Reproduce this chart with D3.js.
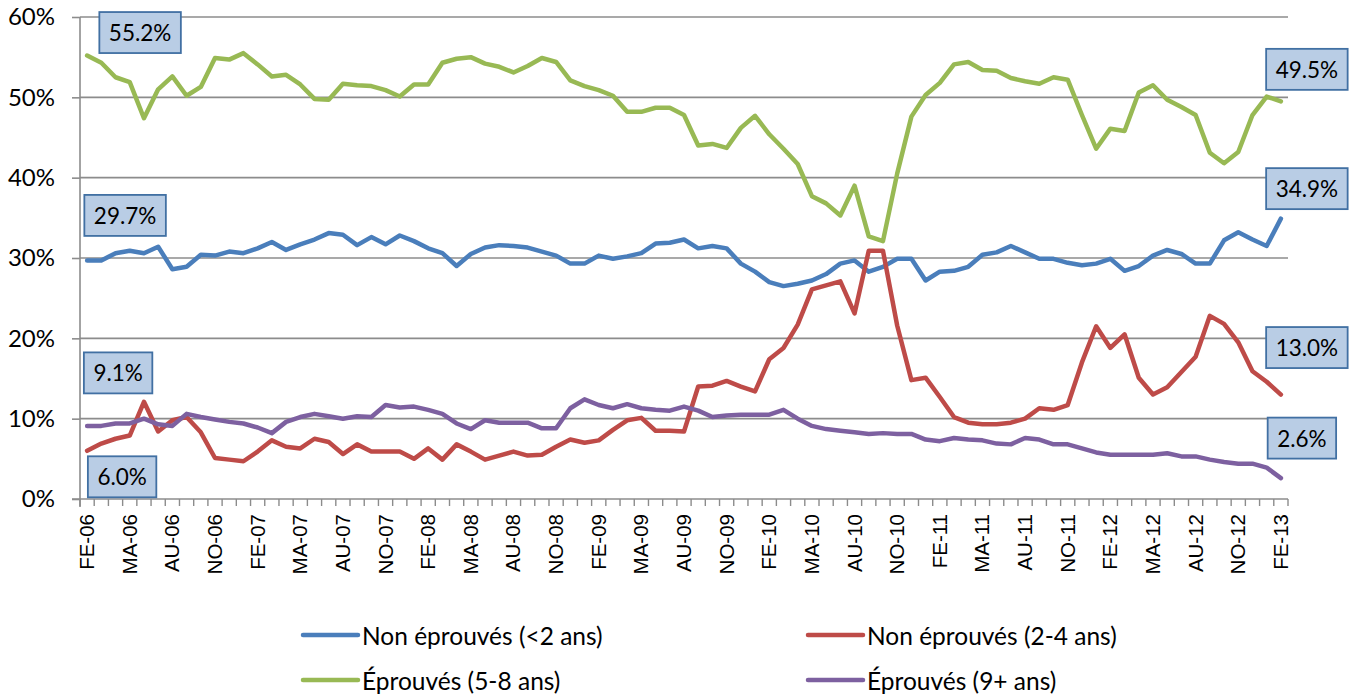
<!DOCTYPE html>
<html>
<head>
<meta charset="utf-8">
<script src="https://cdn.jsdelivr.net/npm/d3@7"></script>
<style>
  html, body { margin: 0; padding: 0; background: #fff; }
  svg { display: block; }
</style>
</head>
<body>
<svg id="chart" width="1359" height="697"></svg>
<script>
// ---------- DATA ----------
const startMonth = "2006-02";
const monthCount = 85; // Feb 2006 .. Feb 2013
const tickLabels = ["FE-06","MA-06","AU-06","NO-06","FE-07","MA-07","AU-07","NO-07",
  "FE-08","MA-08","AU-08","NO-08","FE-09","MA-09","AU-09","NO-09","FE-10","MA-10",
  "AU-10","NO-10","FE-11","MA-11","AU-11","NO-11","FE-12","MA-12","AU-12","NO-12","FE-13"];
const yTicks = [0, 0.1, 0.2, 0.3, 0.4, 0.5, 0.6];

const seriesNames = ["Non éprouvés (<2 ans)", "Non éprouvés (2-4 ans)", "Éprouvés (5-8 ans)", "Éprouvés (9+ ans)"];

const nonEprouves2 = [29.7,29.7,30.6,30.9,30.6,31.4,28.6,28.9,30.4,30.3,30.8,30.6,31.2,32.0,31.0,31.7,32.3,33.1,32.9,31.6,
  32.6,31.7,32.8,32.1,31.2,30.6,29.0,30.5,31.3,31.6,31.5,31.3,30.8,30.3,29.3,29.3,30.3,29.9,30.2,30.6,
  31.8,31.9,32.3,31.2,31.5,31.2,29.3,28.3,27.0,26.5,26.8,27.2,28.0,29.3,29.7,28.3,28.9,29.9,29.9,27.2,
  28.3,28.4,28.9,30.4,30.7,31.5,30.7,29.9,29.9,29.4,29.1,29.3,29.9,28.4,29.0,30.3,31.0,30.5,29.3,29.3,
  32.2,33.2,32.3,31.5,34.9];
const nonEprouves24 = [6.0,6.9,7.5,7.9,12.1,8.4,9.8,10.2,8.3,5.1,4.9,4.7,5.9,7.3,6.5,6.3,7.5,7.1,5.6,6.8,
  5.9,5.9,5.9,5.0,6.3,4.9,6.8,5.9,4.9,5.4,5.9,5.4,5.5,6.5,7.4,7.0,7.3,8.6,9.8,10.1,
  8.5,8.5,8.4,14.0,14.1,14.7,14.0,13.4,17.4,18.8,21.7,26.1,26.6,27.1,23.1,30.9,30.9,21.6,14.8,15.1,
  12.7,10.2,9.5,9.3,9.3,9.5,10.0,11.3,11.1,11.7,17.0,21.5,18.8,20.5,15.1,13.0,13.9,15.8,17.7,22.8,
  21.8,19.5,15.9,14.6,13.0];
const eprouves58 = [55.2,54.3,52.5,51.9,47.4,51.0,52.6,50.2,51.3,54.9,54.7,55.5,54.1,52.6,52.8,51.6,49.8,49.7,51.7,51.5,
  51.4,50.9,50.1,51.6,51.6,54.3,54.8,55.0,54.2,53.8,53.1,53.9,54.9,54.4,52.1,51.4,50.9,50.2,48.2,48.2,
  48.7,48.7,47.8,44.0,44.2,43.7,46.2,47.7,45.4,43.6,41.7,37.7,36.8,35.3,39.0,32.7,32.1,40.5,47.6,50.3,
  51.8,54.1,54.4,53.4,53.3,52.4,52.0,51.7,52.5,52.2,47.8,43.6,46.1,45.8,50.6,51.5,49.7,48.8,47.8,43.1,
  41.8,43.2,47.8,50.1,49.5];
const eprouves9 = [9.1,9.1,9.4,9.4,10.0,9.3,9.1,10.6,10.2,9.9,9.6,9.4,8.9,8.2,9.6,10.2,10.6,10.3,10.0,10.3,
  10.2,11.7,11.4,11.5,11.1,10.6,9.4,8.7,9.8,9.5,9.5,9.5,8.8,8.8,11.3,12.4,11.7,11.3,11.8,11.3,
  11.1,11.0,11.5,11.0,10.2,10.4,10.5,10.5,10.5,11.1,10.0,9.1,8.7,8.5,8.3,8.1,8.2,8.1,8.1,7.4,
  7.2,7.6,7.4,7.3,6.9,6.8,7.6,7.4,6.8,6.8,6.3,5.8,5.5,5.5,5.5,5.5,5.7,5.3,5.3,4.9,
  4.6,4.4,4.4,3.9,2.6];

const seriesValues = [nonEprouves2, nonEprouves24, eprouves58, eprouves9];
const colors = ["#4A7EBB", "#BE4B48", "#98B954", "#7D60A0"];

// ---------- LAYOUT ----------
const svg = d3.select("#chart");
const plot = { left: 80, right: 1288, top: 17, bottom: 499 };
const calibri = "Lato, 'Open Sans', sans-serif";

const parse = d3.timeParse("%Y-%m");
const months = d3.timeMonth.range(parse(startMonth), d3.timeMonth.offset(parse(startMonth), monthCount));
const cats = months.map(d3.timeFormat("%Y-%m"));

const x = d3.scaleBand().domain(cats).range([plot.left, plot.right]).paddingInner(0).paddingOuter(0);
const cx = c => x(c) + x.bandwidth() / 2;
const y = d3.scaleLinear().domain([0, 0.6]).range([plot.bottom, plot.top]);

// gridlines
svg.append("g").selectAll("line").data(yTicks.filter(d => d > 0)).join("line")
  .attr("x1", plot.left).attr("x2", plot.right)
  .attr("y1", d => y(d)).attr("y2", d => y(d))
  .attr("stroke", "#8C8C8C").attr("stroke-width", 1.6);

// Y axis
const yAxis = d3.axisLeft(y).tickValues(yTicks).tickFormat(d3.format(".0%")).tickSize(8).tickPadding(17);
const gy = svg.append("g").attr("transform", `translate(${plot.left},0)`).call(yAxis);
gy.select(".domain").attr("stroke", "#8C8C8C").attr("stroke-width", 1.6).attr("d", `M0,${plot.top}V${plot.bottom + 8}`);
gy.selectAll(".tick line").attr("stroke", "#8C8C8C").attr("stroke-width", 1.6);
gy.selectAll(".tick text").attr("font-family", calibri).attr("font-size", 24).attr("fill", "#000");

// X axis baseline + boundary ticks
const boundaries = cats.map(c => x(c)).concat([x.range()[1]]);
const gx = svg.append("g");
gx.append("line").attr("x1", plot.left - 8).attr("x2", plot.right)
  .attr("y1", plot.bottom).attr("y2", plot.bottom).attr("stroke", "#8C8C8C").attr("stroke-width", 1.6);
gx.selectAll("line.tk").data(boundaries).join("line").attr("class", "tk")
  .attr("x1", d => d).attr("x2", d => d).attr("y1", plot.bottom).attr("y2", plot.bottom + 7)
  .attr("stroke", "#8C8C8C").attr("stroke-width", 1.4);

// X labels every 3 months
const labelCats = cats.filter((c, i) => i % 3 === 0);
gx.selectAll("text").data(labelCats).join("text")
  .attr("transform", c => `translate(${cx(c) + 7},${plot.bottom + 15}) rotate(-90)`)
  .attr("text-anchor", "end")
  .attr("font-family", "'Liberation Sans', Arial, sans-serif")
  .attr("font-size", 20.5)
  .attr("fill", "#000")
  .text((c, i) => tickLabels[i]);

// Lines
const line = d3.line().x((d, i) => cx(cats[i])).y(d => y(d / 100));
svg.append("g").selectAll("path").data(seriesValues).join("path")
  .attr("d", d => line(d))
  .attr("fill", "none")
  .attr("stroke", (d, i) => colors[i])
  .attr("stroke-width", 4.5)
  .attr("stroke-linejoin", "round")
  .attr("stroke-linecap", "round");

// Data labels (first and last points)
const fmt = d3.format(".1f");
const labelSpecs = [
  { s: 2, idx: 0, dx: 53, dy: -23 },
  { s: 0, idx: 0, dx: 38, dy: -45 },
  { s: 3, idx: 0, dx: 31, dy: -53 },
  { s: 1, idx: 0, dx: 35, dy: 26 },
  { s: 2, idx: 84, dx: 26, dy: -32 },
  { s: 0, idx: 84, dx: 26, dy: -30 },
  { s: 1, idx: 84, dx: 26, dy: -47 },
  { s: 3, idx: 84, dx: 21, dy: -40 }
];
const gl = svg.append("g");
labelSpecs.forEach(spec => {
  const v = seriesValues[spec.s][spec.idx];
  const px = cx(cats[spec.idx]) + spec.dx;
  const py = y(v / 100) + spec.dy;
  const g = gl.append("g");
  const rect = g.append("rect");
  const t = g.append("text")
    .attr("x", px).attr("y", py)
    .attr("text-anchor", "middle").attr("dominant-baseline", "central")
    .attr("font-family", calibri).attr("font-size", 22.5).attr("fill", "#000")
    .text(fmt(v) + "%");
  const w = t.node().getComputedTextLength() + 19;
  rect.attr("x", px - w / 2).attr("y", py - 20.5).attr("width", w).attr("height", 41)
    .attr("fill", "#B9CDE5").attr("stroke", "#4170A3").attr("stroke-width", 1.8);
});

// Legend
const legendPos = [[303, 635], [808, 635], [303, 680], [808, 680]];
const lg = svg.append("g");
seriesNames.forEach((name, i) => {
  const [lx, ly] = legendPos[i];
  lg.append("line").attr("x1", lx).attr("x2", lx + 55).attr("y1", ly).attr("y2", ly)
    .attr("stroke", colors[i]).attr("stroke-width", 4.5).attr("stroke-linecap", "round");
  lg.append("text").attr("x", lx + 59).attr("y", ly).attr("dominant-baseline", "central")
    .attr("font-family", calibri).attr("font-size", 24.5).attr("fill", "#000").text(name);
});
</script>
</body>
</html>
